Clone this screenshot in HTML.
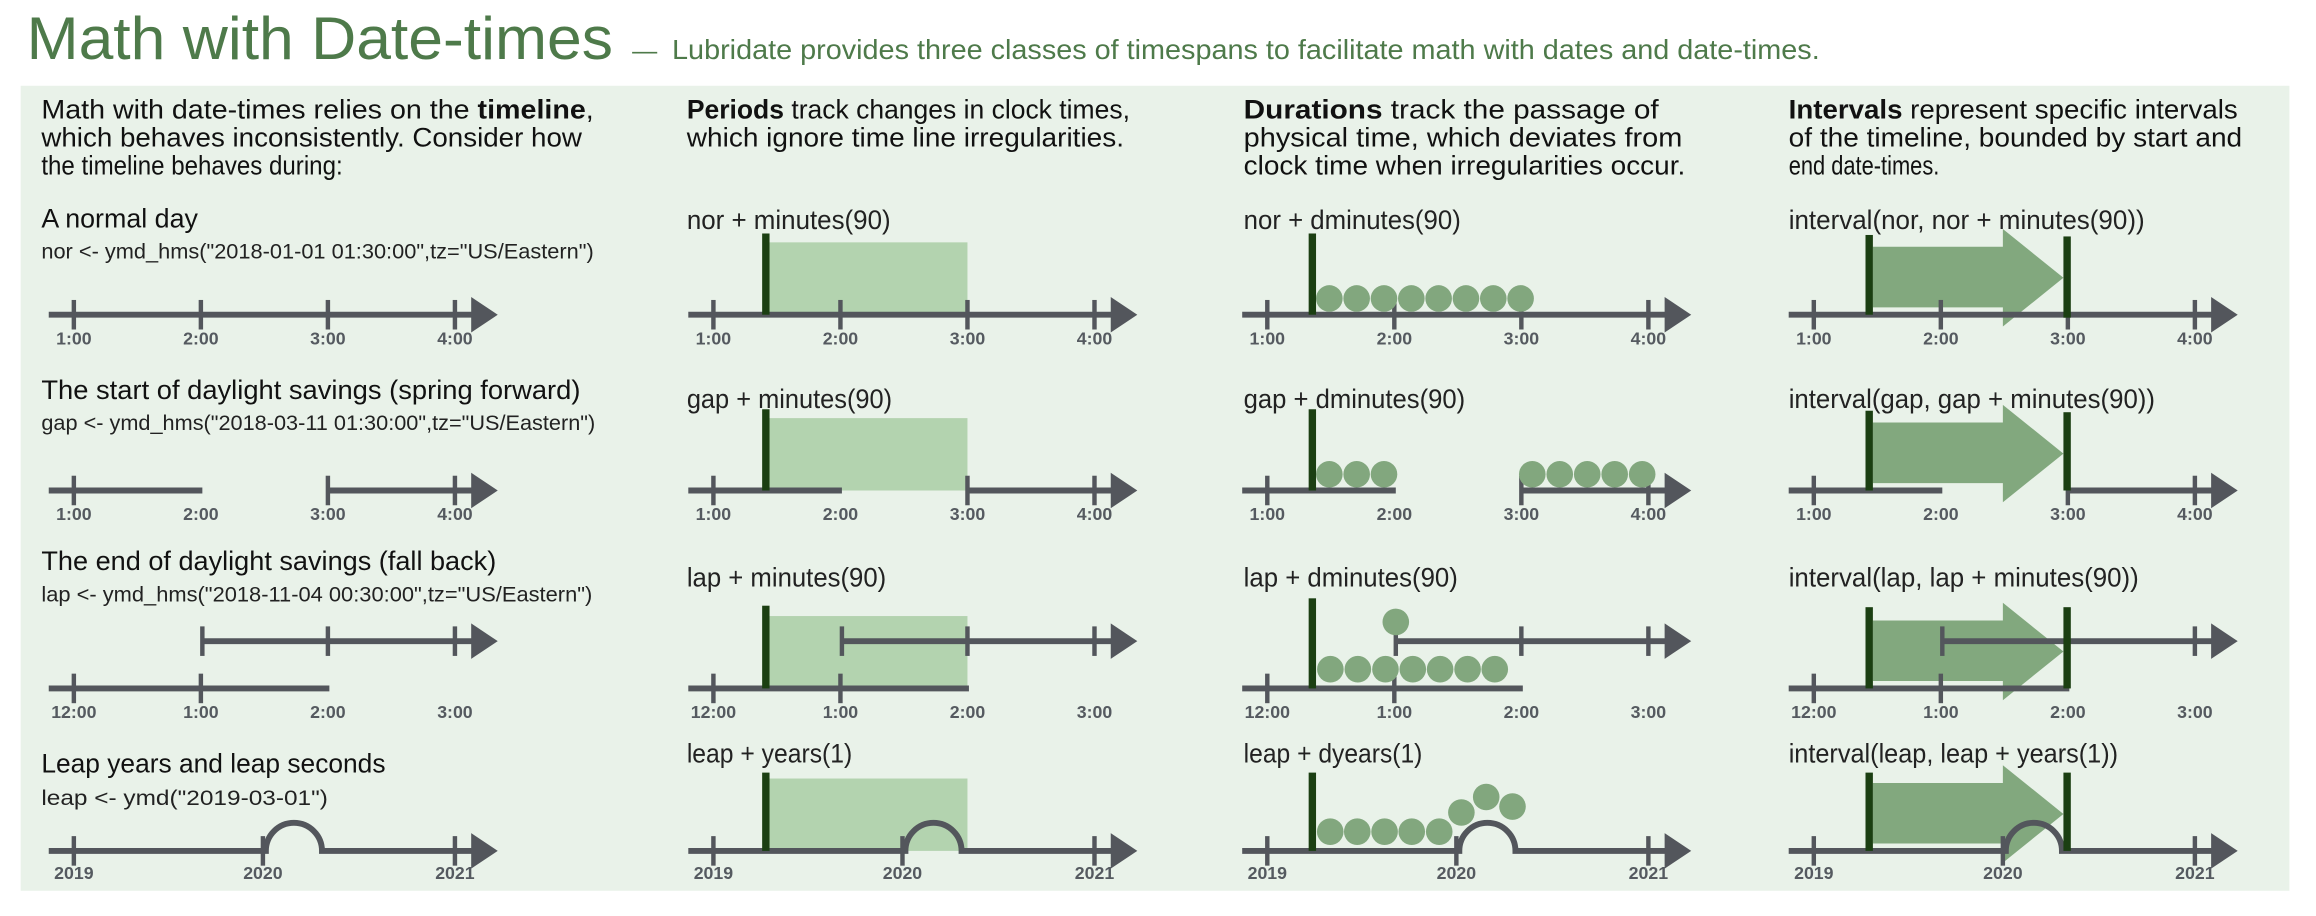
<!DOCTYPE html>
<html><head><meta charset="utf-8"><style>
html,body{margin:0;padding:0;background:#fff;}
svg{display:block;}
text{font-family:"Liberation Sans",sans-serif;}
.h{font-size:18px;fill:#111;}
.l{font-size:18px;fill:#222;}
.c{font-size:14.5px;fill:#222;}
.t{font-size:12px;font-weight:bold;fill:#555a60;text-anchor:middle;}
.ln{stroke:#53565c;stroke-width:4;fill:none;}
.tk{stroke:#53565c;stroke-width:3;}
.ah{fill:#53565c;}
.bar{fill:#1b3f12;}
.pr{fill:#b3d3af;}
.ci{fill:#82a77e;}
.ar{fill:#82a87e;}
</style></head><body>
<svg width="2316" height="916" viewBox="0 0 1568 620" xmlns="http://www.w3.org/2000/svg">
<defs>
<g id="r1">
<line class="ln" x1="33" y1="213" x2="327" y2="213"/>
<line class="tk" x1="50" y1="203" x2="50" y2="223"/><line class="tk" x1="136" y1="203" x2="136" y2="223"/><line class="tk" x1="222" y1="203" x2="222" y2="223"/><line class="tk" x1="308" y1="203" x2="308" y2="223"/>
<polygon class="ah" points="319,201 337,213 319,225"/>
<text class="t" x="50" y="233">1:00</text><text class="t" x="136" y="233">2:00</text><text class="t" x="222" y="233">3:00</text><text class="t" x="308" y="233">4:00</text>
</g>
<g id="r2">
<line class="ln" x1="33" y1="332" x2="137" y2="332"/>
<line class="ln" x1="221" y1="332" x2="327" y2="332"/>
<line class="tk" x1="50" y1="322" x2="50" y2="342"/><line class="tk" x1="222" y1="322" x2="222" y2="342"/><line class="tk" x1="308" y1="322" x2="308" y2="342"/>
<polygon class="ah" points="319,320 337,332 319,344"/>
<text class="t" x="50" y="352">1:00</text><text class="t" x="136" y="352">2:00</text><text class="t" x="222" y="352">3:00</text><text class="t" x="308" y="352">4:00</text>
</g>
<g id="r3">
<line class="ln" x1="136" y1="434" x2="327" y2="434"/>
<line class="tk" x1="137" y1="424" x2="137" y2="444"/><line class="tk" x1="222" y1="424" x2="222" y2="444"/><line class="tk" x1="308" y1="424" x2="308" y2="444"/>
<polygon class="ah" points="319,422 337,434 319,446"/>
<line class="ln" x1="33" y1="466" x2="223" y2="466"/>
<line class="tk" x1="50" y1="456" x2="50" y2="476"/><line class="tk" x1="136" y1="456" x2="136" y2="476"/>
<text class="t" x="50" y="486">12:00</text><text class="t" x="136" y="486">1:00</text><text class="t" x="222" y="486">2:00</text><text class="t" x="308" y="486">3:00</text>
</g>
<g id="r4">
<path class="ln" d="M33,576 L180,576 A19,19 0 0 1 218,576 L327,576"/>
<line class="tk" x1="50" y1="566" x2="50" y2="586"/><line class="tk" x1="178" y1="566" x2="178" y2="586"/><line class="tk" x1="308" y1="566" x2="308" y2="586"/>
<polygon class="ah" points="319,564 337,576 319,588"/>
<text class="t" x="50" y="595">2019</text><text class="t" x="178" y="595">2020</text><text class="t" x="308" y="595">2021</text>
</g>
</defs>

<rect x="0" y="0" width="1568" height="620" fill="#fff"/>
<text x="18" y="40" font-size="41" fill="#4e7a4a" textLength="397" lengthAdjust="spacingAndGlyphs">Math with Date-times</text>
<text x="428" y="40" font-size="17" fill="#4e7a4a">—</text>
<text x="455" y="40" font-size="19" fill="#4e7a4a" textLength="777" lengthAdjust="spacingAndGlyphs">Lubridate provides three classes of timespans to facilitate math with dates and date-times.</text>

<rect x="14" y="58" width="1536" height="545" fill="#e9f2e9"/>

<!-- column 1 -->
<text class="h" x="28" y="80" textLength="374" lengthAdjust="spacingAndGlyphs">Math with date-times relies on the <tspan font-weight="bold">timeline</tspan>,</text>
<text class="h" x="28" y="99" textLength="366" lengthAdjust="spacingAndGlyphs">which behaves inconsistently.  Consider how</text>
<text class="h" x="28" y="118" textLength="204" lengthAdjust="spacingAndGlyphs">the timeline behaves during:</text>
<text class="h" x="28" y="154" textLength="106" lengthAdjust="spacingAndGlyphs">A normal day</text>
<text class="c" x="28" y="175" textLength="374" lengthAdjust="spacingAndGlyphs">nor &lt;- ymd_hms("2018-01-01 01:30:00",tz="US/Eastern")</text>
<text class="h" x="28" y="270" textLength="365" lengthAdjust="spacingAndGlyphs">The start of daylight savings (spring forward)</text>
<text class="c" x="28" y="291" textLength="375" lengthAdjust="spacingAndGlyphs">gap &lt;- ymd_hms("2018-03-11 01:30:00",tz="US/Eastern")</text>
<text class="h" x="28" y="386" textLength="308" lengthAdjust="spacingAndGlyphs">The end of daylight savings (fall back)</text>
<text class="c" x="28" y="407" textLength="373" lengthAdjust="spacingAndGlyphs">lap &lt;- ymd_hms("2018-11-04 00:30:00",tz="US/Eastern")</text>
<text class="h" x="28" y="523" textLength="233" lengthAdjust="spacingAndGlyphs">Leap years and leap seconds</text>
<text class="c" x="28" y="545" textLength="194" lengthAdjust="spacingAndGlyphs">leap &lt;- ymd("2019-03-01")</text>
<use href="#r1"/><use href="#r2"/><use href="#r3"/><use href="#r4"/>

<!-- column 2: periods -->
<text class="h" x="465" y="80" textLength="300" lengthAdjust="spacingAndGlyphs"><tspan font-weight="bold">Periods</tspan> track changes in clock times,</text>
<text class="h" x="465" y="99" textLength="296" lengthAdjust="spacingAndGlyphs">which ignore time line irregularities.</text>
<text class="l" x="465" y="155" textLength="138" lengthAdjust="spacingAndGlyphs">nor + minutes(90)</text>
<text class="l" x="465" y="276" textLength="139" lengthAdjust="spacingAndGlyphs">gap + minutes(90)</text>
<text class="l" x="465" y="397" textLength="135" lengthAdjust="spacingAndGlyphs">lap + minutes(90)</text>
<text class="l" x="465" y="516" textLength="112" lengthAdjust="spacingAndGlyphs">leap + years(1)</text>
<rect class="pr" x="519" y="164" width="136" height="49"/>
<rect class="pr" x="519" y="283" width="136" height="49"/>
<rect class="pr" x="519" y="417" width="136" height="49"/>
<rect class="pr" x="519" y="527" width="136" height="49"/>
<g transform="translate(433,0)"><use href="#r1"/><use href="#r2"/><use href="#r3"/><use href="#r4"/></g>
<rect class="bar" x="516" y="158" width="5" height="55"/>
<rect class="bar" x="516" y="277" width="5" height="55"/>
<rect class="bar" x="516" y="410" width="5" height="56"/>
<rect class="bar" x="516" y="523" width="5" height="53"/>

<!-- column 3: durations -->
<text class="h" x="842" y="80" textLength="281" lengthAdjust="spacingAndGlyphs"><tspan font-weight="bold">Durations</tspan> track the passage of</text>
<text class="h" x="842" y="99" textLength="297" lengthAdjust="spacingAndGlyphs">physical time, which deviates from</text>
<text class="h" x="842" y="118" textLength="299" lengthAdjust="spacingAndGlyphs">clock time when irregularities occur.</text>
<text class="l" x="842" y="155" textLength="147" lengthAdjust="spacingAndGlyphs">nor + dminutes(90)</text>
<text class="l" x="842" y="276" textLength="150" lengthAdjust="spacingAndGlyphs">gap + dminutes(90)</text>
<text class="l" x="842" y="397" textLength="145" lengthAdjust="spacingAndGlyphs">lap + dminutes(90)</text>
<text class="l" x="842" y="516" textLength="121" lengthAdjust="spacingAndGlyphs">leap + dyears(1)</text>
<g transform="translate(808,0)"><use href="#r1"/><use href="#r2"/><use href="#r3"/><use href="#r4"/></g>
<g class="ci">
<circle cx="900" cy="202" r="9"/><circle cx="918.5" cy="202" r="9"/><circle cx="937" cy="202" r="9"/><circle cx="955.5" cy="202" r="9"/><circle cx="974" cy="202" r="9"/><circle cx="992.5" cy="202" r="9"/><circle cx="1011" cy="202" r="9"/><circle cx="1029.5" cy="202" r="9"/>
<circle cx="900" cy="321" r="9"/><circle cx="918.5" cy="321" r="9"/><circle cx="937" cy="321" r="9"/>
<circle cx="1037.4" cy="321" r="9"/><circle cx="1056" cy="321" r="9"/><circle cx="1074.6" cy="321" r="9"/><circle cx="1093.2" cy="321" r="9"/><circle cx="1111.8" cy="321" r="9"/>
<circle cx="945" cy="421" r="9"/>
<circle cx="900.7" cy="453" r="9"/><circle cx="919.3" cy="453" r="9"/><circle cx="938" cy="453" r="9"/><circle cx="956.5" cy="453" r="9"/><circle cx="975" cy="453" r="9"/><circle cx="993.6" cy="453" r="9"/><circle cx="1012" cy="453" r="9"/>
<circle cx="900.6" cy="563" r="9"/><circle cx="918.9" cy="563" r="9"/><circle cx="937.4" cy="563" r="9"/><circle cx="955.8" cy="563" r="9"/><circle cx="974.4" cy="563" r="9"/><circle cx="989.4" cy="550" r="9"/><circle cx="1006.2" cy="539.5" r="9"/><circle cx="1024" cy="546" r="9"/>
</g>
<rect class="bar" x="886" y="158" width="5" height="55"/>
<rect class="bar" x="886" y="277" width="5" height="55"/>
<rect class="bar" x="886" y="405" width="5" height="61"/>
<rect class="bar" x="886" y="523" width="5" height="53"/>

<!-- column 4: intervals -->
<text class="h" x="1211" y="80" textLength="304" lengthAdjust="spacingAndGlyphs"><tspan font-weight="bold">Intervals</tspan> represent specific intervals</text>
<text class="h" x="1211" y="99" textLength="307" lengthAdjust="spacingAndGlyphs">of the timeline, bounded by start and</text>
<text class="h" x="1211" y="118" textLength="102" lengthAdjust="spacingAndGlyphs">end date-times.</text>
<text class="l" x="1211" y="155" textLength="241" lengthAdjust="spacingAndGlyphs">interval(nor, nor + minutes(90))</text>
<text class="l" x="1211" y="276" textLength="248" lengthAdjust="spacingAndGlyphs">interval(gap, gap + minutes(90))</text>
<text class="l" x="1211" y="397" textLength="237" lengthAdjust="spacingAndGlyphs">interval(lap, lap + minutes(90))</text>
<text class="l" x="1211" y="516" textLength="223" lengthAdjust="spacingAndGlyphs">interval(leap, leap + years(1))</text>
<polygon class="ar" points="1268,167 1356,167 1356,155 1397,188 1356,221 1356,208 1268,208"/>
<polygon class="ar" points="1268,286 1356,286 1356,274 1397,307 1356,340 1356,327 1268,327"/>
<polygon class="ar" points="1268,420 1356,420 1356,408 1397,441 1356,474 1356,461 1268,461"/>
<polygon class="ar" points="1268,530 1356,530 1356,518 1397,551 1356,584 1356,571 1268,571"/>
<g transform="translate(1178,0)"><use href="#r1"/><use href="#r2"/><use href="#r3"/><use href="#r4"/></g>
<rect class="bar" x="1263" y="159" width="5" height="54"/><rect class="bar" x="1397" y="160" width="5" height="55"/>
<rect class="bar" x="1263" y="278" width="5" height="54"/><rect class="bar" x="1397" y="279" width="5" height="53"/>
<rect class="bar" x="1263" y="411" width="5" height="55"/><rect class="bar" x="1397" y="411" width="5" height="55"/>
<rect class="bar" x="1263" y="523" width="5" height="53"/><rect class="bar" x="1397" y="523" width="5" height="53"/>
</svg>
</body></html>
